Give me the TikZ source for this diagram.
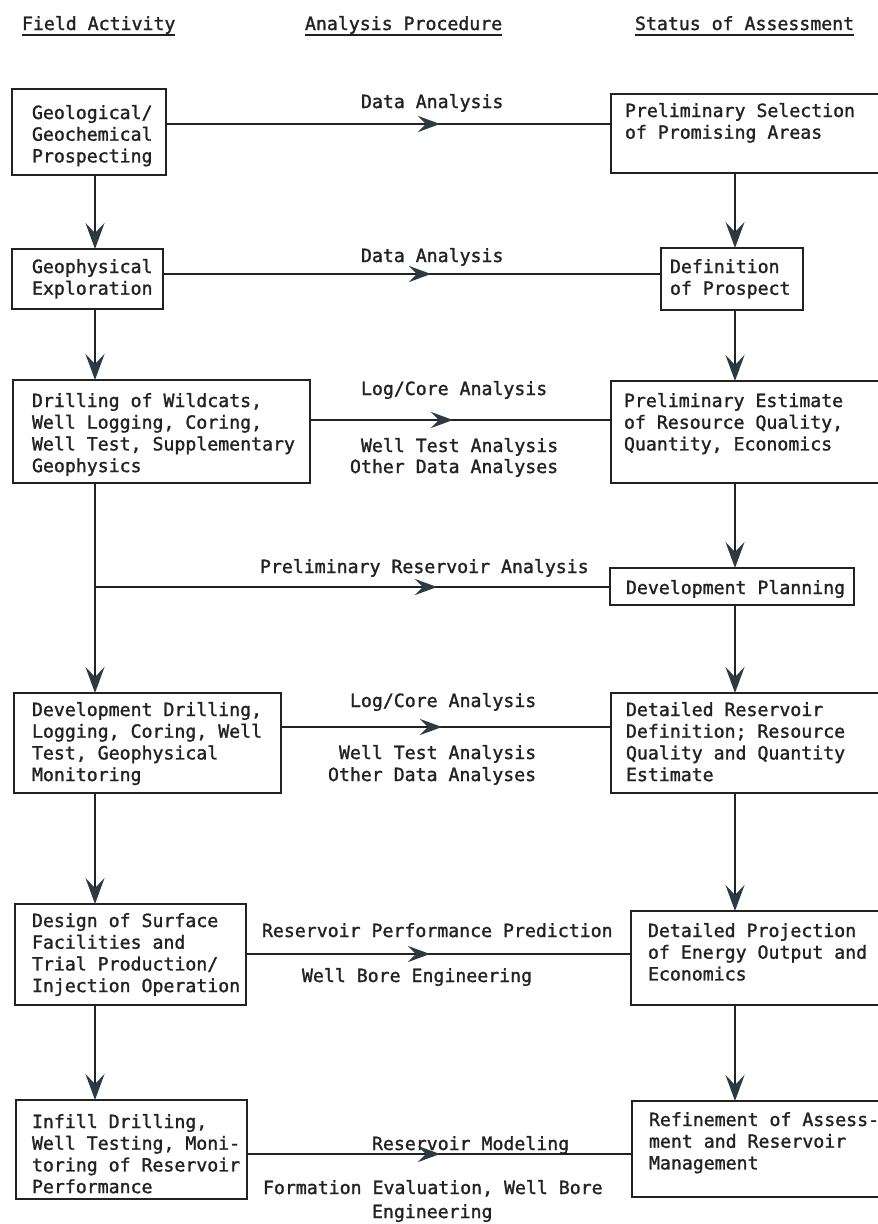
\documentclass[tikz,border=0pt]{standalone}
\usepackage{fontspec}
\newfontfamily\mono[FakeBold=1.4]{DejaVu Sans Mono}
\usetikzlibrary{arrows.meta,decorations.markings}
\definecolor{ink}{RGB}{34,34,34}
\definecolor{tipink}{RGB}{44,58,66}
\newcommand{\boxtxt}[5]{\parbox[c][#2][t]{#1}{\raggedright\leftskip=#3\relax\rule{0pt}{#4}#5}}
\begin{document}
\begin{tikzpicture}[x=1pt,y=-1pt,
  every node/.style={font=\mono\fontsize{18.2pt}{21.7pt}\selectfont, text=ink, inner sep=0pt, outer sep=0pt},
  bx/.style={draw=ink, line width=2.6pt, anchor=north west},
  lbl/.style={anchor=base west},
  vline/.style={draw=ink, line width=2.3pt, -{Stealth[length=26pt,width=19pt,inset=10pt,color=tipink]}},
  hline/.style={draw=ink, line width=2.3pt, postaction={decorate},
    decoration={markings, mark=at position #1 with {\arrow{Stealth[length=22pt,width=16pt,inset=8pt,color=tipink]}}}},
  uline/.style={draw=ink, line width=2.2pt}
]
\path[use as bounding box, fill=white] (0,0) rectangle (878,1224);

% column guides
\coordinate (Lx) at (95,0);
\coordinate (Rx) at (735,0);
\coordinate (H1) at (0,124);
\coordinate (H2) at (0,274);
\coordinate (H3) at (0,420);
\coordinate (J)  at (95,587);
\coordinate (H4) at (0,727);
\coordinate (H5) at (0,954);
\coordinate (H6) at (0,1154);

% headers
\node[lbl] (h1) at (22,30) {Field Activity};
\node[lbl] (h2) at (305,30) {Analysis Procedure};
\node[lbl] (h3) at (635,30) {Status of Assessment};
\draw[uline] ([yshift=-5pt]h1.base west) -- ([yshift=-5pt]h1.base east);
\draw[uline] ([yshift=-5pt]h2.base west) -- ([yshift=-5pt]h2.base east);
\draw[uline] ([yshift=-5pt]h3.base west) -- ([yshift=-5pt]h3.base east);

% left column
\node[bx] (A1) at (12,89) {\boxtxt{154pt}{86pt}{20pt}{30pt}{Geological/\\Geochemical\\Prospecting}};
\node[bx] (A2) at (12,249) {\boxtxt{151pt}{60pt}{20pt}{24pt}{Geophysical\\Exploration}};
\node[bx] (A3) at (13,380) {\boxtxt{297pt}{103pt}{19pt}{27pt}{Drilling of Wildcats,\\Well Logging, Coring,\\Well Test, Supplementary\\Geophysics}};
\node[bx] (A4) at (14,693) {\boxtxt{267pt}{100pt}{18pt}{23pt}{Development Drilling,\\Logging, Coring, Well\\Test, Geophysical\\Monitoring}};
\node[bx] (A5) at (15,904) {\boxtxt{231pt}{101pt}{17pt}{23pt}{Design of Surface\\Facilities and\\Trial Production/\\Injection Operation}};
\node[bx] (A6) at (16,1100) {\boxtxt{231pt}{99pt}{16pt}{28pt}{Infill Drilling,\\Well Testing, Moni-\\toring of Reservoir\\Performance}};

% right column
\node[bx] (B1) at (611,94) {\boxtxt{279pt}{79pt}{14pt}{23pt}{Preliminary Selection\\of Promising Areas}};
\node[bx] (B2) at (661,248) {\boxtxt{142pt}{62pt}{9pt}{25pt}{Definition\\of Prospect}};
\node[bx] (B3) at (611,381) {\boxtxt{279pt}{102pt}{13pt}{26pt}{Preliminary Estimate\\of Resource Quality,\\Quantity, Economics}};
\node[bx] (DP) at (610,568) {\boxtxt{244pt}{37pt}{16pt}{26pt}{Development Planning}};
\node[bx] (B4) at (611,693) {\boxtxt{279pt}{100pt}{15pt}{23pt}{Detailed Reservoir\\Definition; Resource\\Quality and Quantity\\Estimate}};
\node[bx] (B5) at (631,911) {\boxtxt{259pt}{94pt}{17pt}{26pt}{Detailed Projection\\of Energy Output and\\Economics}};
\node[bx] (B6) at (632,1101) {\boxtxt{258pt}{96pt}{17pt}{25pt}{Refinement of Assess-\\ment and Reservoir\\Management}};

% labels
\node[lbl] (l1) at (361,108) {Data Analysis};
\node[lbl] (l2) at (361,262) {Data Analysis};
\node[lbl] (l3a) at (361,395) {Log/Core Analysis};
\node[lbl] (l3b) at (361,452) {Well Test Analysis};
\node[lbl] (l3c) at (350,473) {Other Data Analyses};
\node[lbl] (lb) at (260,573) {Preliminary Reservoir Analysis};
\node[lbl] (l4a) at (350,707) {Log/Core Analysis};
\node[lbl] (l4b) at (339,759) {Well Test Analysis};
\node[lbl] (l4c) at (328,781) {Other Data Analyses};
\node[lbl] (l5a) at (262,937) {Reservoir Performance Prediction};
\node[lbl] (l5b) at (302,982) {Well Bore Engineering};
\node[lbl] (l6a) at (372,1150) {Reservoir Modeling};
\node[lbl] (l6b) at (263,1194) {Formation Evaluation, Well Bore};
\node[lbl] (l6c) at (372,1218) {Engineering};

% vertical connectors, left
\draw[vline] (A1.south -| Lx) -- (A2.north -| Lx);
\draw[vline] (A2.south -| Lx) -- (A3.north -| Lx);
\draw[vline] (A3.south -| Lx) -- (A4.north -| Lx);
\draw[vline] (A4.south -| Lx) -- (A5.north -| Lx);
\draw[vline] (A5.south -| Lx) -- (A6.north -| Lx);

% vertical connectors, right
\draw[vline] (B1.south -| Rx) -- (B2.north -| Rx);
\draw[vline] (B2.south -| Rx) -- (B3.north -| Rx);
\draw[vline] (B3.south -| Rx) -- (DP.north -| Rx);
\draw[vline] (DP.south -| Rx) -- (B4.north -| Rx);
\draw[vline] (B4.south -| Rx) -- (B5.north -| Rx);
\draw[vline] (B5.south -| Rx) -- (B6.north -| Rx);

% horizontal connectors
\draw[hline=274pt] (A1.east |- H1) -- (B1.west |- H1);
\draw[hline=268pt] (A2.east |- H2) -- (B2.west |- H2);
\draw[hline=143pt] (A3.east |- H3) -- (B3.west |- H3);
\draw[hline=342pt] (J) -- (DP.west |- J);
\draw[hline=161pt] (A4.east |- H4) -- (B4.west |- H4);
\draw[hline=184pt] (A5.east |- H5) -- (B5.west |- H5);
\draw[hline=193pt] (A6.east |- H6) -- (B6.west |- H6);
\end{tikzpicture}
\end{document}
